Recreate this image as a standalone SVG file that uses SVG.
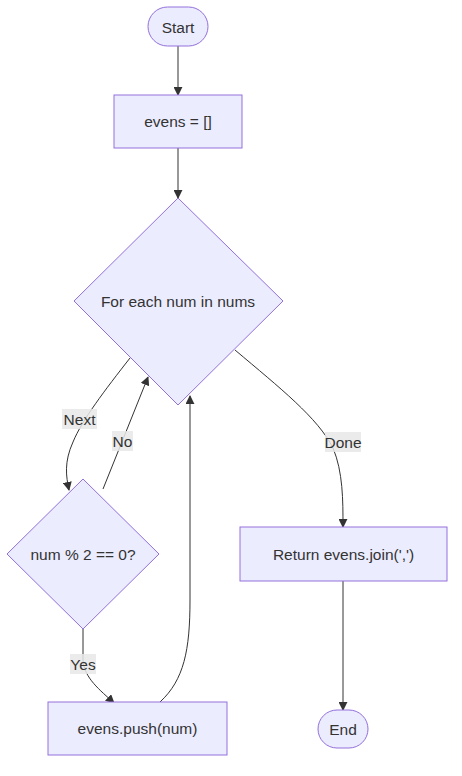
<svg xmlns="http://www.w3.org/2000/svg" width="462" height="776" viewBox="0 0 462 776">
<defs>
<style>
.node{fill:#ECECFF;stroke:#9370DB;stroke-width:1}
.t{font-family:"Liberation Sans",Arial,sans-serif;font-size:15.5px;fill:#333;text-anchor:middle;dominant-baseline:central}
.e{fill:none;stroke:#333;stroke-width:1}
.lb{fill:#e8e8e8;opacity:0.85}
</style>
<marker id="arr" viewBox="0 0 10 10" refX="9" refY="5" markerWidth="9" markerHeight="9" markerUnits="userSpaceOnUse" orient="auto">
<path d="M0,0 L10,5 L0,10 z" fill="#333"/>
</marker>
</defs>
<g id="edges">
<path class="e" d="M178,46 L178,95" marker-end="url(#arr)"/>
<path class="e" d="M178,148 L178,198" marker-end="url(#arr)"/>
<path class="e" d="M130,358 C105,390 82,420 73,442 C64,462 66,476 69,490" marker-end="url(#arr)"/>
<path class="e" d="M103,489 L148,377" marker-end="url(#arr)"/>
<path class="e" d="M83,629 L83,660 C84,678 100,690 114,703" marker-end="url(#arr)"/>
<path class="e" d="M160,702 C184,680 190,650 190,600 L190,396" marker-end="url(#arr)"/>
<path class="e" d="M235,350 C280,388 318,418 333,448 C343,472 343,500 343,527" marker-end="url(#arr)"/>
<path class="e" d="M343,581 L343,710" marker-end="url(#arr)"/>
</g>
<g id="edge-labels">
<g id="l-next"><rect class="lb" x="62" y="409" width="35" height="20"/><text class="t" x="79.5" y="419">Next</text></g>
<g id="l-no"><rect class="lb" x="112" y="431" width="21" height="20"/><text class="t" x="122.5" y="441">No</text></g>
<g id="l-yes"><rect class="lb" x="70" y="654" width="26" height="20"/><text class="t" x="83" y="664">Yes</text></g>
<g id="l-done"><rect class="lb" x="325" y="432" width="36" height="20"/><text class="t" x="343" y="442">Done</text></g>
</g>
<g id="start"><rect class="node" x="148" y="7" width="60" height="39" rx="19.5"/><text class="t" x="178" y="27">Start</text></g>
<g id="init"><rect class="node" x="114" y="95" width="128" height="53"/><text class="t" x="178" y="121.5">evens = []</text></g>
<g id="loop"><polygon class="node" points="178,198 283,301 178,405 74,301"/><text class="t" x="178" y="301">For each num in nums</text></g>
<g id="check"><polygon class="node" points="83,479 159,554 83,629 7,554"/><text class="t" x="83" y="554">num % 2 == 0?</text></g>
<g id="push"><rect class="node" x="48" y="702" width="179" height="53"/><text class="t" x="137.5" y="728.5">evens.push(num)</text></g>
<g id="ret"><rect class="node" x="240" y="527" width="207" height="54"/><text class="t" x="343.5" y="554">Return evens.join(',')</text></g>
<g id="end"><rect class="node" x="318" y="710" width="50" height="38" rx="19"/><text class="t" x="343" y="729">End</text></g>
</svg>
